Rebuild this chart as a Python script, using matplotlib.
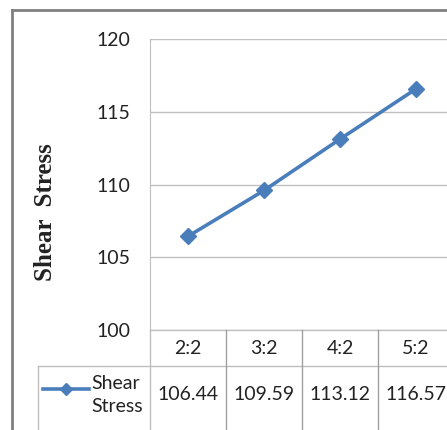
import numpy as np
import matplotlib.pyplot as plt
from matplotlib.lines import Line2D

# Data
categories = ["2:2", "3:2", "4:2", "5:2"]
shear_stress = [106.44, 109.59, 113.12, 116.57]
series_name = "Shear\nStress"

W, H = 447, 430
fig = plt.figure(figsize=(W / 100, H / 100), dpi=100)
fig.patch.set_facecolor("white")

def fx(x):
    return x / W

def fy(y):
    return 1 - y / H

def hline(x0, x1, y, color="#bfbfbf", lw=1.0):
    fig.add_artist(Line2D([fx(x0), fx(x1)], [fy(y), fy(y)], color=color, lw=lw,
                          transform=fig.transFigure))

def vline(x, y0, y1, color="#bfbfbf", lw=1.0):
    fig.add_artist(Line2D([fx(x), fx(x)], [fy(y0), fy(y1)], color=color, lw=lw,
                          transform=fig.transFigure))

blue = "#4a7ebb"
font = "Lato"
fs = 14

# plot area (pixel box 150..454 x 39..330)
left, right, top, bottom = 150, 454, 39, 330
ax = fig.add_axes([fx(left), fy(bottom), fx(right - left), fy(top) - fy(bottom)])
x = np.arange(len(categories))
ax.plot(x, shear_stress, color=blue, lw=2.6, marker="D", markersize=8.5,
        markeredgecolor=blue, zorder=3, clip_on=False)
ax.set_xlim(-0.5, len(categories) - 0.5)
ax.set_ylim(100, 120)
ax.set_yticks(np.arange(100, 121, 5))
ax.set_xticks([])
ax.grid(axis="y", color="#c0c0c0", lw=1.0)
for s in ["top", "right", "bottom"]:
    ax.spines[s].set_visible(False)
ax.spines["left"].set_color("#bfbfbf")
ax.tick_params(axis="y", length=0, pad=14, labelsize=fs)
for lab in ax.get_yticklabels():
    lab.set_fontfamily(font)
    lab.set_color("#222222")

# y label
fig.text(fx(45), fy(212), "Shear  Stress", rotation=90, ha="center", va="center",
         fontsize=18, fontweight="bold", family="Liberation Serif", color="#222222")

# data table
col_w = (right - left) / len(categories)
row1_top, row1_bot = bottom, 366
vline(left, bottom, H + 5)
hline(left, W + 5, row1_top)
hline(38, W + 5, row1_bot)
vline(38, row1_bot, H + 5)
for i in range(1, len(categories)):
    vline(left + i * col_w, row1_top, H + 5, color="#a0a0a0")
for i, (c, v) in enumerate(zip(categories, shear_stress)):
    cx = left + (i + 0.5) * col_w
    fig.text(fx(cx), fy(349), c, ha="center", va="center", fontsize=fs,
             family=font, color="#222222")
    fig.text(fx(cx), fy(395), f"{v:.2f}", ha="center", va="center", fontsize=fs,
             family=font, color="#222222")

# legend key inside table
fig.add_artist(Line2D([fx(43), fx(89)], [fy(389), fy(389)], color=blue, lw=2.6,
                      transform=fig.transFigure))
fig.add_artist(Line2D([fx(66)], [fy(389)], color=blue, marker="D", markersize=6,
                      transform=fig.transFigure))
fig.text(fx(91), fy(395), series_name, ha="left", va="center", fontsize=fs,
         family=font, color="#222222", linespacing=1.4)

# outer chart border
hline(12, W + 5, 9.5, color="#808080", lw=2.0)
vline(12, 9.5, H + 5, color="#808080", lw=2.0)

fig.savefig("out.png", dpi=100)
